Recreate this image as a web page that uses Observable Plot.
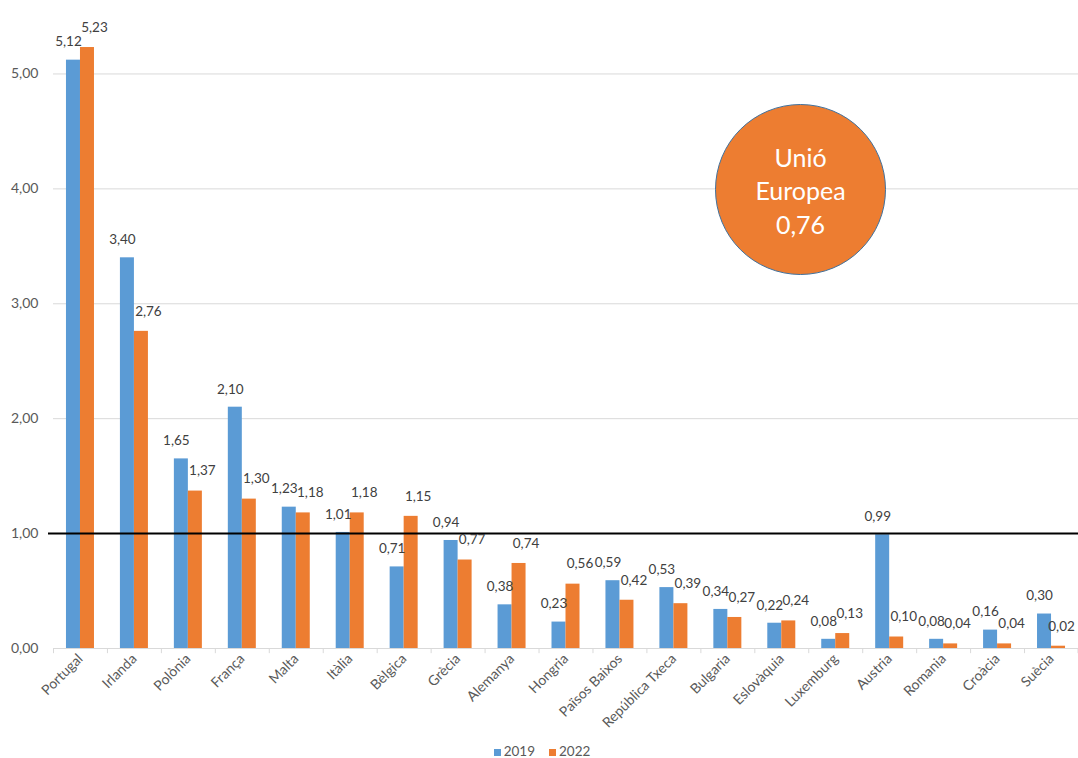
<!DOCTYPE html>
<html>
<head>
<meta charset="utf-8">
<script src="https://cdn.jsdelivr.net/npm/d3@7"></script>
<script src="https://cdn.jsdelivr.net/npm/@observablehq/plot@0.6"></script>
<style>
  body { margin: 0; background: #fff; font-family: Lato, "Noto Sans", sans-serif; }
  #chart svg { display: block; }
  .legend { display: flex; justify-content: center; gap: 14px; font-size: 13.5px; color: #595959; margin-top: 2px; height: 18px; align-items: center; padding-left: 6px; }
  .legend span.sw { display: inline-block; width: 7px; height: 7px; margin-right: 3px; }
</style>
</head>
<body>
<div id="chart"></div>
<script>
const countries = ["Portugal","Irlanda","Polònia","França","Malta","Itàlia","Bèlgica","Grècia","Alemanya","Hongria","Països Baixos","República Txeca","Bulgaria","Eslovàquia","Luxemburg","Austria","Romania","Croàcia","Suècia"];
const v2019 = [5.12,3.40,1.65,2.10,1.23,1.01,0.71,0.94,0.38,0.23,0.59,0.53,0.34,0.22,0.08,0.99,0.08,0.16,0.30];
const v2022 = [5.23,2.76,1.37,1.30,1.18,1.18,1.15,0.77,0.74,0.56,0.42,0.39,0.27,0.24,0.13,0.10,0.04,0.04,0.02];
const years = ["2019","2022"];
const colors = ["#5B9BD5","#ED7D31"];
const yTicks = [0,1,2,3,4,5];
const reference = 1;
const euName = "Unió\nEuropea";
const euValue = 0.76;

const fmt = v => v.toFixed(2).replace(".", ",");
const rows19 = countries.map((c,i) => ({country: c, year: years[0], value: v2019[i]}));
const rows22 = countries.map((c,i) => ({country: c, year: years[1], value: v2022[i]}));

const W = 1078, H = 740, ML = 53, MR = 0;
const bw = (W - ML - MR) / countries.length;
const half = bw / 2;

const plot = Plot.plot({
  width: W, height: H,
  marginLeft: ML, marginRight: MR, marginTop: 16, marginBottom: 92,
  style: {fontFamily: "Lato, 'Noto Sans', sans-serif", background: "#fff"},
  x: {type: "band", domain: countries, padding: 0, round: false, label: null},
  y: {domain: [0, 5.5], label: null},
  color: {domain: years, range: colors},
  marks: [
    Plot.gridY(yTicks.filter(d => d > 0), {stroke: "#d9d9d9", strokeOpacity: 1}),
    Plot.ruleY([0], {stroke: "#d9d9d9"}),
    Plot.ruleX(countries, {x: d => d, dx: -half, y1: 0, y2: -0.045, stroke: "#d9d9d9"}),
    Plot.ruleX(countries.slice(-1), {x: d => d, dx: half - 0.5, y1: 0, y2: -0.045, stroke: "#d9d9d9"}),
    Plot.barY(rows19, {x: "country", y: "value", fill: "year", insetLeft: half - 14, insetRight: half}),
    Plot.barY(rows22, {x: "country", y: "value", fill: "year", insetLeft: half, insetRight: half - 14}),
    Plot.ruleY([reference], {stroke: "#000", strokeWidth: 2, insetLeft: -5}),
    Plot.text(rows19, {x: "country", y: "value", text: d => fmt(d.value), dx: -12, dy: -18, fontSize: 13.5, fill: "#404040"}),
    Plot.text(rows22.slice(0, -1), {x: "country", y: "value", text: d => fmt(d.value), dx: 14, dy: -20, fontSize: 13.5, fill: "#404040"}),
    Plot.text(rows22.slice(-1), {x: "country", y: "value", text: d => fmt(d.value), dx: 10, dy: -20, fontSize: 13.5, fill: "#404040"}),
    Plot.axisY({ticks: yTicks, tickFormat: fmt, tickSize: 0, tickPadding: 15, fontSize: 14, color: "#595959", label: null}),
    Plot.axisX({tickRotate: -45, tickSize: 0, tickPadding: 8, fontSize: 14, color: "#595959", label: null}),
    Plot.dot([euValue], {frameAnchor: "top-right", dx: -(W - 800), dy: 189 - 16, r: 85, fill: colors[1], stroke: "#41719C", strokeWidth: 1}),
    Plot.text([euValue], {frameAnchor: "top-right", dx: -(W - 800), dy: 189 - 16, text: d => euName + "\n" + fmt(d), textAnchor: "middle", lineAnchor: "middle", fontSize: 25, lineHeight: 1.35, fill: "#fff"})
  ]
});
document.getElementById("chart").appendChild(plot);

const legend = document.createElement("div");
legend.className = "legend";
years.forEach((y, i) => {
  const item = document.createElement("div");
  const sw = document.createElement("span");
  sw.className = "sw"; sw.style.background = colors[i];
  item.appendChild(sw);
  item.appendChild(document.createTextNode(y));
  legend.appendChild(item);
});
document.getElementById("chart").appendChild(legend);
</script>
</body>
</html>
